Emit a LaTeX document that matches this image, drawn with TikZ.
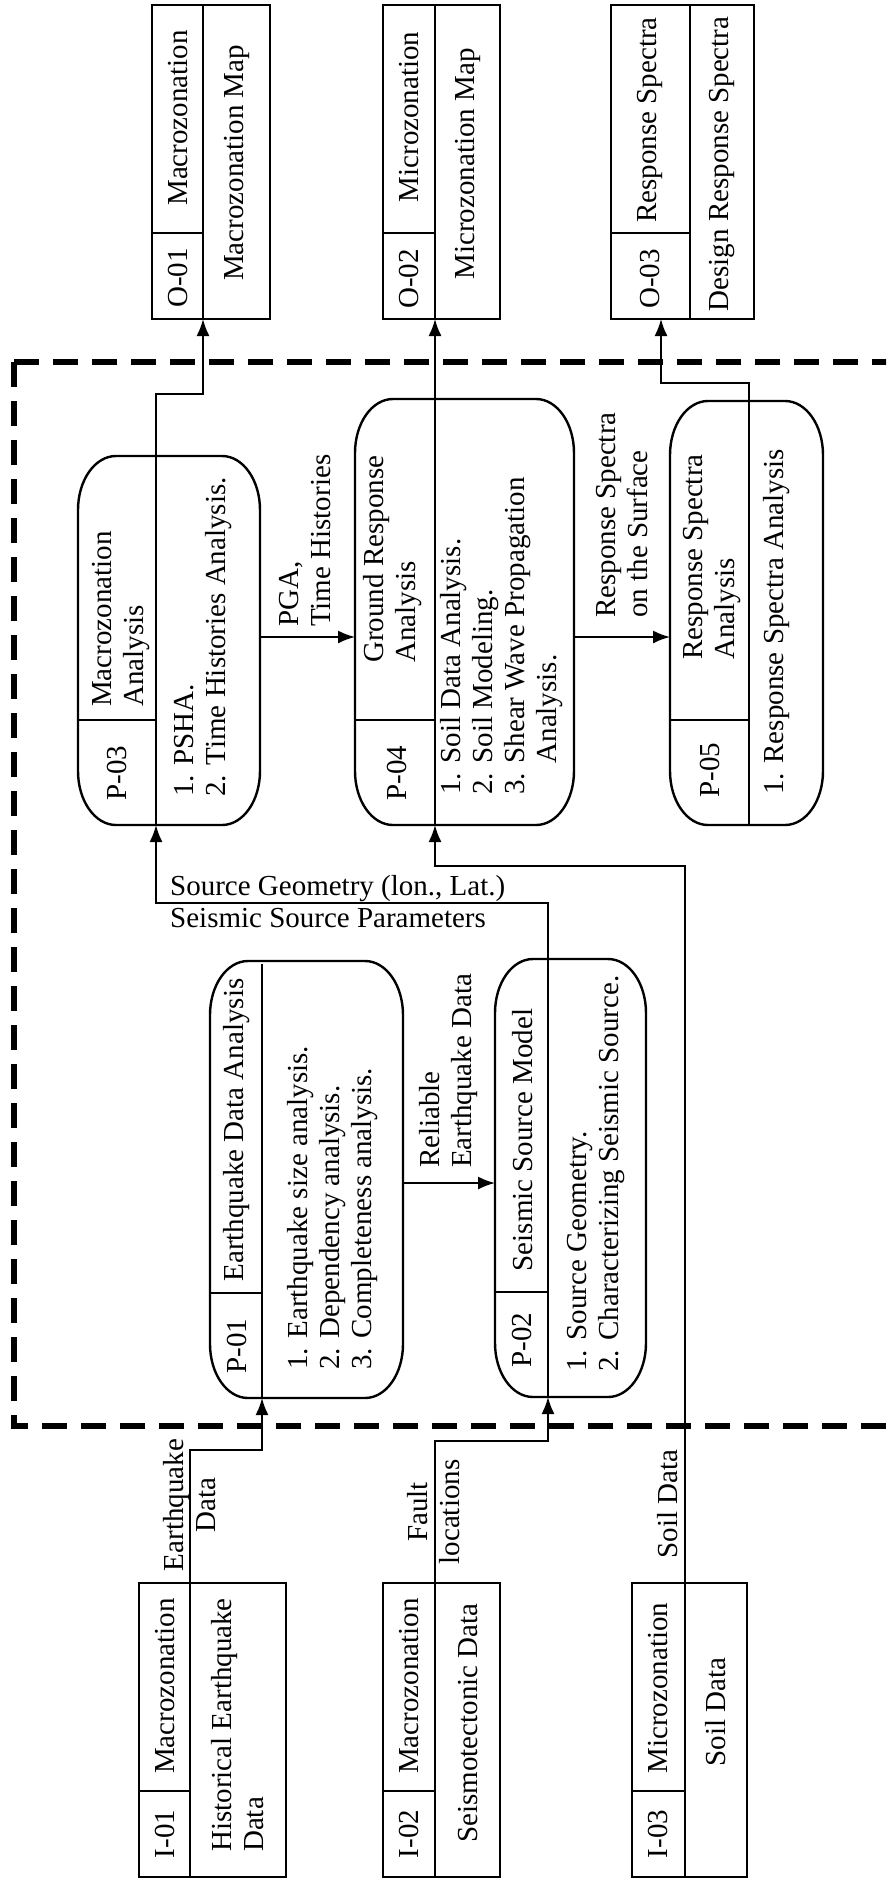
\documentclass[tikz,border=0pt]{standalone}
\usepackage{fontspec}
\setmainfont{Liberation Serif}
\usetikzlibrary{arrows.meta}
\newcommand\fsz{\fontsize{29}{32}\selectfont}
\tikzset{
  boxline/.style={line width=2.4pt},
  divline/.style={line width=1.8pt},
  conn/.style={line width=1.8pt, -{Latex[length=17pt,width=13pt]}},
  vtxt/.style={rotate=90, inner sep=0pt, font=\fsz, align=left},
  ctxt/.style={rotate=90, inner sep=0pt, font=\fsz, align=center},
  htxt/.style={inner sep=0pt, font=\fsz},
  dashbox/.style={line width=5.5pt, dash pattern=on 24.5pt off 14.5pt},
}
% process box with elliptical corners: x1 y1 x2 y2
\newcommand\procshape[4]{%
  \draw[boxline] (#1+38,#2) -- (#3-38,#2)
    .. controls (#3-17,#2) and (#3,#2+24) .. (#3,#2+54)
    -- (#3,#4-54)
    .. controls (#3,#4-24) and (#3-17,#4) .. (#3-38,#4)
    -- (#1+38,#4)
    .. controls (#1+17,#4) and (#1,#4-24) .. (#1,#4-54)
    -- (#1,#2+54)
    .. controls (#1,#2+24) and (#1+17,#2) .. cycle;}
\begin{document}
\begin{tikzpicture}[x=1pt,y=-1pt]
\useasboundingbox (0,0) rectangle (886,1879);
\clip (0,0) rectangle (886,1879);

% dashed system boundary
\draw[dashbox] (14,362) -- (900,362);
\draw[dashbox] (14,362) -- (14,1426) -- (900,1426);

% ---------- output boxes ----------
\draw[boxline] (152,5) rectangle (270,319);
\draw[divline] (203,5) -- (203,319) (152,233) -- (203,233);
\node[ctxt] (o1id) at (178,278) {O-01};
\node[ctxt] (o1cat) at (178,118) {Macrozonation};
\node[ctxt] (o1name) at (237,163) {Macrozonation Map};
\coordinate (O1in) at (203,319);

\draw[boxline] (383,5) rectangle (500,319);
\draw[divline] (435,5) -- (435,319) (383,233) -- (435,233);
\node[ctxt] (o2id) at (409,279) {O-02};
\node[ctxt] (o2cat) at (409,117) {Microzonation};
\node[ctxt] (o2name) at (468,164) {Microzonation Map};
\coordinate (O2in) at (435,319);

\draw[boxline] (611,5) rectangle (754,319);
\draw[divline] (690,5) -- (690,319) (611,233) -- (690,233);
\node[ctxt] (o3id) at (650,279) {O-03};
\node[ctxt] (o3cat) at (650,120) {Response Spectra};
\node[ctxt] (o3name) at (722,164) {Design Response Spectra};
\coordinate (O3in) at (661,319);

% ---------- process boxes ----------
% P-03
\procshape{78}{456}{260}{825}
\draw[divline] (156,456) -- (156,825) (78,720) -- (156,720);
\node[ctxt] (p3id) at (117,773) {P-03};
\node[vtxt, anchor=west] (p3name) at (121,707) {Macrozonation\\Analysis};
\node[vtxt, anchor=west] (p3list) at (203,797) {1. PSHA.\\2. Time Histories Analysis.};
\coordinate (P3top) at (156,456);
\coordinate (P3bot) at (156,825);
\coordinate (P3right) at (260,637);

% P-04
\procshape{355}{399}{574}{825}
\draw[divline] (435,399) -- (435,825) (355,720) -- (435,720);
\node[ctxt] (p4id) at (397,773) {P-04};
\node[vtxt, anchor=west] (p4name) at (393,663) {Ground Response\\Analysis};
\node[vtxt, anchor=west] (p4list) at (502,795) {1. Soil Data Analysis.\\2. Soil Modeling.\\3. Shear Wave Propagation\\\phantom{3. }Analysis.};
\coordinate (P4top) at (435,399);
\coordinate (P4bot) at (435,825);
\coordinate (P4left) at (355,637);
\coordinate (P4right) at (574,637);

% P-05
\procshape{670}{401}{823}{825}
\draw[divline] (749,401) -- (749,825) (670,720) -- (749,720);
\node[ctxt] (p5id) at (710,770) {P-05};
\node[vtxt, anchor=west] (p5name) at (712,660) {Response Spectra\\Analysis};
\node[vtxt, anchor=west] (p5list) at (777,795) {1. Response Spectra Analysis};
\coordinate (P5top) at (749,401);
\coordinate (P5left) at (670,637);

% P-01
\procshape{210}{961}{403}{1398}
\draw[divline] (262,964) -- (262,1398) (210,1293) -- (262,1293);
\node[ctxt] (p1id) at (237,1346) {P-01};
\node[ctxt] (p1name) at (237,1130) {Earthquake Data Analysis};
\node[vtxt, anchor=west] (p1list) at (333,1370) {1. Earthquake size analysis.\\2. Dependency analysis.\\3. Completeness analysis.};
\coordinate (P1bot) at (262,1398);
\coordinate (P1right) at (403,1183);

% P-02
\procshape{495}{959}{646}{1397}
\draw[divline] (548,959) -- (548,1397) (495,1292) -- (548,1292);
\node[ctxt] (p2id) at (522,1340) {P-02};
\node[ctxt] (p2name) at (523,1140) {Seismic Source Model};
\node[vtxt, anchor=west] (p2list) at (596,1372) {1. Source Geometry.\\2. Characterizing Seismic Source.};
\coordinate (P2top) at (548,959);
\coordinate (P2bot) at (548,1397);
\coordinate (P2left) at (495,1183);

% ---------- input boxes ----------
\draw[boxline] (139,1583) rectangle (286,1877);
\draw[divline] (190,1583) -- (190,1877) (139,1791) -- (190,1791);
\node[ctxt] (i1id) at (165,1834) {I-01};
\node[ctxt] (i1cat) at (165,1686) {Macrozonation};
\node[vtxt, anchor=west] (i1name) at (238,1852) {Historical Earthquake\\Data};
\coordinate (I1out) at (190,1583);

\draw[boxline] (383,1583) rectangle (500,1877);
\draw[divline] (435,1583) -- (435,1877) (383,1791) -- (435,1791);
\node[ctxt] (i2id) at (409,1834) {I-02};
\node[ctxt] (i2cat) at (409,1686) {Macrozonation};
\node[ctxt] (i2name) at (468,1723) {Seismotectonic Data};
\coordinate (I2out) at (435,1583);

\draw[boxline] (632,1583) rectangle (747,1877);
\draw[divline] (685,1583) -- (685,1877) (632,1791) -- (685,1791);
\node[ctxt] (i3id) at (658,1834) {I-03};
\node[ctxt] (i3cat) at (658,1688) {Microzonation};
\node[ctxt] (i3name) at (716,1712) {Soil Data};
\coordinate (I3out) at (685,1583);

% ---------- connectors ----------
\draw[conn] (I1out) -- (190,1450) -| (P1bot);
\draw[conn] (I2out) -- (435,1441) -| (P2bot);
\draw[conn] (I3out) -- (685,866) -| (P4bot);
\draw[conn] (P1right) -- (P2left);
\draw[conn] (P2top) -- (548,903) -| (P3bot);
\draw[conn] (P3right) -- (P4left);
\draw[conn] (P4right) -- (P5left);
\draw[conn] (P3top) -- (156,394) -| (O1in);
\draw[conn] (P4top) -- (O2in);
\draw[conn] (P5top) -- (749,383) -| (O3in);

% ---------- connector labels ----------
\node[ctxt] (l1) at (190,1505) {Earthquake\\Data};
\node[ctxt] (l2) at (434,1512) {Fault\\locations};
\node[ctxt] (l3) at (668,1504) {Soil Data};
\node[vtxt, anchor=west] (l4) at (449,1168) {Reliable\\Earthquake Data};
\node[vtxt, anchor=west] (l5) at (305,627) {PGA,\\Time Histories};
\node[vtxt, anchor=west] (l6) at (622,618) {Response Spectra\\on the Surface};
\node[htxt, anchor=base west] (l7) at (170,895) {Source Geometry (lon., Lat.)};
\node[htxt, anchor=base west] (l8) at (170,927) {Seismic Source Parameters};
\end{tikzpicture}
\end{document}
